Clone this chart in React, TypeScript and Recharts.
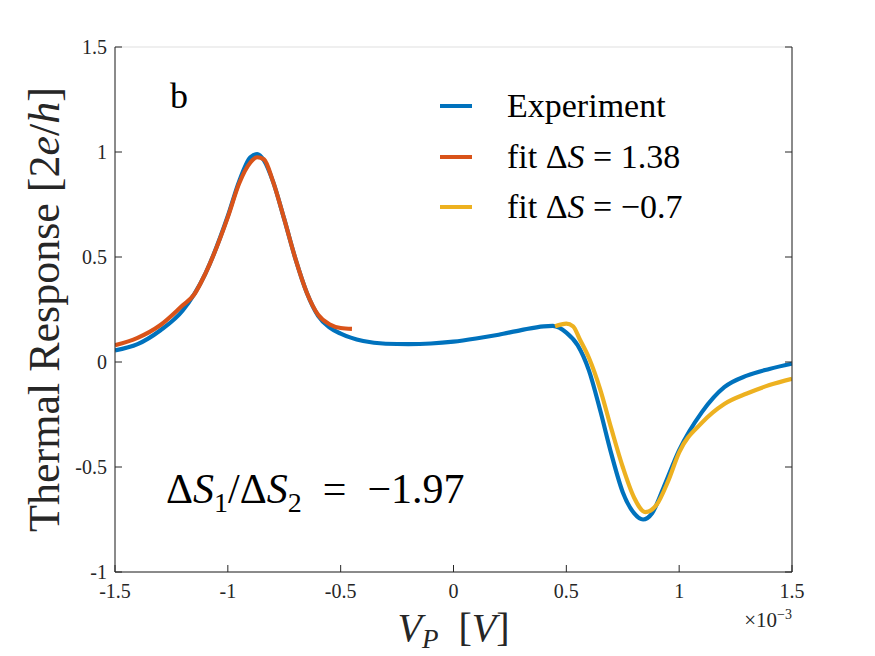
import { LineChart, Line, XAxis, YAxis, CartesianGrid } from 'recharts';

// V_P in units of 1e-3 V
const expX = [-1.5, -1.4, -1.3, -1.2, -1.1, -1.0, -0.95, -0.9, -0.87, -0.84, -0.8, -0.75, -0.7, -0.65, -0.6, -0.55, -0.5, -0.4, -0.3, -0.2, -0.1, 0, 0.1, 0.2, 0.3, 0.4, 0.44, 0.5, 0.55, 0.6, 0.65, 0.7, 0.75, 0.8, 0.84, 0.88, 0.93, 1.0, 1.1, 1.2, 1.3, 1.4, 1.5];
const expY = [0.055, 0.085, 0.15, 0.245, 0.42, 0.695, 0.86, 0.975, 0.99, 0.96, 0.86, 0.68, 0.49, 0.33, 0.22, 0.165, 0.135, 0.1, 0.087, 0.085, 0.088, 0.097, 0.112, 0.13, 0.152, 0.17, 0.172, 0.14, 0.08, -0.04, -0.23, -0.44, -0.62, -0.72, -0.75, -0.72, -0.6, -0.42, -0.24, -0.12, -0.065, -0.033, -0.008];

const fit1X = [-1.5, -1.4, -1.3, -1.2, -1.15, -1.1, -1.0, -0.95, -0.9, -0.87, -0.84, -0.8, -0.75, -0.7, -0.65, -0.6, -0.55, -0.5, -0.45];
const fit1Y = [0.08, 0.115, 0.175, 0.27, 0.32, 0.42, 0.69, 0.85, 0.95, 0.975, 0.965, 0.86, 0.68, 0.49, 0.33, 0.225, 0.18, 0.162, 0.158];

const fit2X = [0.45, 0.5, 0.53, 0.56, 0.6, 0.65, 0.7, 0.75, 0.8, 0.85, 0.9, 0.95, 1.0, 1.1, 1.2, 1.3, 1.4, 1.5];
const fit2Y = [0.17, 0.183, 0.17, 0.107, 0.02, -0.13, -0.32, -0.5, -0.645, -0.715, -0.68, -0.57, -0.43, -0.29, -0.2, -0.15, -0.11, -0.08];

const xTicks = [-1.5, -1, -0.5, 0, 0.5, 1, 1.5];
const yTicks = [-1, -0.5, 0, 0.5, 1, 1.5];

const BLUE = '#0072BD';
const ORANGE = '#D95319';
const YELLOW = '#EDB120';
const FONT = '"Liberation Serif", serif';

const toPoints = (xs: number[], ys: number[]) => xs.map((x, i) => ({ x, y: ys[i] }));
const expData = toPoints(expX, expY);
const fit1Data = toPoints(fit1X, fit1Y);
const fit2Data = toPoints(fit2X, fit2Y);

const fmt = (v: number) => String(v);

function YLabel(props: any) {
  const vb = props.viewBox || {};
  const cx = 44;
  const cy = vb.y + vb.height / 2;
  return (
    <text
      x={cx}
      y={cy}
      transform={`rotate(-90, ${cx}, ${cy})`}
      textAnchor="middle"
      dominantBaseline="central"
      fontFamily={FONT}
      fontSize={44}
      fill="#262626"
    >
      Thermal Response [2<tspan fontStyle="italic">e</tspan>/<tspan fontStyle="italic">h</tspan>]
    </text>
  );
}

function XLabel(props: any) {
  const vb = props.viewBox || {};
  const cx = vb.x + vb.width / 2;
  return (
    <g>
      <text x={cx} y={641} textAnchor="middle" fontFamily={FONT} fontSize={40} fill="#262626">
        <tspan fontStyle="italic">V</tspan>
        <tspan fontStyle="italic" fontSize={27} dy={7}>P</tspan>
        <tspan dy={-7}>{'\u2002['}</tspan>
        <tspan fontStyle="italic">V</tspan>
        <tspan>]</tspan>
      </text>
      <text x={vb.x + vb.width} y={627} textAnchor="end" fontFamily={FONT} fontSize={21} fill="#262626">
        ×10<tspan fontSize={14} dy={-8}>−3</tspan>
      </text>
    </g>
  );
}

const legendItems = [
  { color: BLUE, label: <span>Experiment</span> },
  { color: ORANGE, label: <span>fit Δ<i>S</i> = 1.38</span> },
  { color: YELLOW, label: <span>fit Δ<i>S</i> = −0.7</span> },
];

export default function App() {
  return (
    <div style={{ position: 'absolute', left: 0, top: 0, width: 875, height: 656, background: '#fff' }}>
      <LineChart width={875} height={656} margin={{ top: 47, right: 0, bottom: 0, left: 0 }}>
        <CartesianGrid stroke="#dfdfdf" strokeWidth={1} />
        <XAxis
          xAxisId="b"
          dataKey="x"
          type="number"
          domain={[-1.5, 1.5]}
          ticks={xTicks}
          tickFormatter={fmt}
          allowDataOverflow
          height={84}
          stroke="#262626"
          tickSize={-7}
          tickMargin={19}
          fontSize={20}
          fontFamily={FONT}
          tick={{ fontFamily: FONT, fontSize: 20, fill: '#262626' }}
          label={<XLabel />}
        />
        <XAxis
          xAxisId="t"
          dataKey="x"
          type="number"
          orientation="top"
          domain={[-1.5, 1.5]}
          ticks={xTicks}
          tickFormatter={() => ''}
          allowDataOverflow
          height={0}
          stroke="#262626"
          tickSize={-7}
        />
        <YAxis
          yAxisId="l"
          type="number"
          domain={[-1, 1.5]}
          ticks={yTicks}
          tickFormatter={fmt}
          allowDataOverflow
          width={115}
          stroke="#262626"
          tickSize={-7}
          tickMargin={15}
          fontSize={20}
          fontFamily={FONT}
          tick={{ fontFamily: FONT, fontSize: 20, fill: '#262626' }}
          label={<YLabel />}
        />
        <YAxis
          yAxisId="r"
          orientation="right"
          type="number"
          domain={[-1, 1.5]}
          ticks={yTicks}
          tickFormatter={() => ''}
          allowDataOverflow
          width={83}
          stroke="#262626"
          tickSize={-7}
        />
        <Line xAxisId="b" yAxisId="l" data={expData} dataKey="y" type="monotone" stroke={BLUE} strokeWidth={4.2} dot={false} isAnimationActive={false} />
        <Line xAxisId="b" yAxisId="l" data={fit1Data} dataKey="y" type="monotone" stroke={ORANGE} strokeWidth={4.2} dot={false} isAnimationActive={false} />
        <Line xAxisId="b" yAxisId="l" data={fit2Data} dataKey="y" type="monotone" stroke={YELLOW} strokeWidth={4.2} dot={false} isAnimationActive={false} />
      </LineChart>
      <div style={{ position: 'absolute', left: 437, top: 81, width: 340, fontFamily: FONT, fontSize: 34, color: '#000' }}>
        {legendItems.map((it, i) => (
          <div key={i} style={{ display: 'flex', alignItems: 'center', height: 50.5 }}>
            <div style={{ width: 32, height: 4, background: it.color, marginLeft: 3, marginRight: 35 }} />
            <div style={{ whiteSpace: 'nowrap' }}>{it.label}</div>
          </div>
        ))}
      </div>
      <div style={{ position: 'absolute', left: 170, top: 76, fontFamily: FONT, fontSize: 36, lineHeight: '40px', color: '#000' }}>b</div>
      <div style={{ position: 'absolute', left: 166, top: 464, fontFamily: FONT, fontSize: 42, lineHeight: '50px', color: '#000', whiteSpace: 'nowrap' }}>
        Δ<i>S</i><sub style={{ fontSize: 28 }}>1</sub>/Δ<i>S</i><sub style={{ fontSize: 28 }}>2</sub>{'\u2002=\u2002'}−1.97
      </div>
    </div>
  );
}
